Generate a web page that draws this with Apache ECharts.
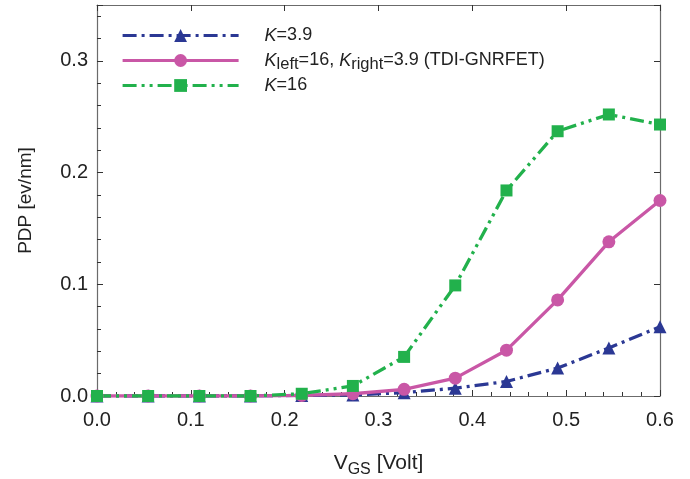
<!DOCTYPE html>
<html>
<head>
<meta charset="utf-8">
<script src="https://cdn.jsdelivr.net/npm/echarts@6/dist/echarts.min.js"></script>
<style>
  html, body {margin: 0; padding: 0; background: #fff;}
  #chart {width: 690px; height: 479px;}
</style>
</head>
<body>
<div id="chart"></div>
<script>
// V_GS sweep, 12 points 0 .. 0.6 V
const vgs = [0, 0.0545, 0.1091, 0.1636, 0.2182, 0.2727, 0.3273, 0.3818, 0.4364, 0.4909, 0.5455, 0.6];
const pdpK39 = [0, 0, 0, 0, 0.0005, 0.001, 0.003, 0.007, 0.013, 0.025, 0.043, 0.062];
const pdpTDI = [0, 0, 0, 0, 0.0005, 0.002, 0.006, 0.016, 0.041, 0.086, 0.138, 0.175];
const pdpK16 = [0, 0, 0, 0, 0.002, 0.009, 0.035, 0.099, 0.184, 0.237, 0.252, 0.243];
const xTicks = [0, 0.1, 0.2, 0.3, 0.4, 0.5, 0.6];
const yTicks = [0, 0.1, 0.2, 0.3];

const pair = (xs, ys) => xs.map((x, i) => [x, ys[i]]);
const font = '"Liberation Sans", Arial, sans-serif';
const frame = '#6b6b6b';

const chart = echarts.init(document.getElementById('chart'));

// frame axes; only bottom/left carry minor ticks
const boxAxis = (pos, extra) => Object.assign({
  type: 'value',
  position: pos,
  axisLine: {show: true, onZero: false, lineStyle: {color: frame, width: 1.2}},
  axisTick: {show: true, inside: true, length: 6, lineStyle: {color: '#333'}},
  minorTick: {show: pos === 'bottom' || pos === 'left', splitNumber: 5, length: 4, lineStyle: {color: '#333'}},
  splitLine: {show: false},
  axisLabel: {show: false}
}, extra);

const sub = {fontSize: 16.5, fontFamily: font, color: '#222', lineHeight: 25, verticalAlign: 'bottom'};
const norm = {fontSize: 18, fontFamily: font, color: '#222', lineHeight: 25, verticalAlign: 'middle'};
const ital = Object.assign({}, norm, {fontStyle: 'italic'});

chart.setOption({
  animation: false,
  grid: {left: 97, right: 30, top: 5, bottom: 83, outerBoundsMode: 'none'},
  legend: {
    left: 116,
    top: 18,
    orient: 'vertical',
    itemWidth: 116,
    itemHeight: 16,
    itemGap: 0,
    lineStyle: {width: 3.2},
    textStyle: {
      padding: [0, 0, 0, 21],
      lineHeight: 25,
      fontSize: 18, fontFamily: font, color: '#222',
      rich: {k: ital, n: norm, s: sub}
    },
    formatter: (name) => {
      if (name === 'a') return '{k|K}{n|=3.9}';
      if (name === 'b') return '{k|K}{s|left}{n|=16, }{k|K}{s|right}{n|=3.9 (TDI-GNRFET)}';
      return '{k|K}{n|=16}';
    }
  },
  xAxis: [
    boxAxis('bottom', {
      min: 0, max: 0.6, interval: 0.1,
      axisLabel: {
        show: true, margin: 14, fontSize: 20, fontFamily: font, color: '#222',
        formatter: (v) => v.toFixed(1),
        customValues: xTicks
      },
      name: '{v|V}{s|GS}{v| [Volt]}',
      nameLocation: 'middle',
      nameGap: 52,
      nameTextStyle: {
        rich: {
          v: {fontSize: 21, fontFamily: font, color: '#222', lineHeight: 30, verticalAlign: 'middle'},
          s: {fontSize: 16, fontFamily: font, color: '#222', lineHeight: 30, verticalAlign: 'bottom'}
        }
      }
    }),
    boxAxis('top', {min: 0, max: 0.6, interval: 0.1})
  ],
  yAxis: [
    boxAxis('left', {
      min: 0, max: 0.35, interval: 0.1,
      axisLabel: {
        show: true, margin: 9, fontSize: 20, fontFamily: font, color: '#222',
        formatter: (v) => v.toFixed(1),
        customValues: yTicks
      },
      name: 'PDP [ev/nm]',
      nameLocation: 'middle',
      nameGap: 62,
      nameTextStyle: {fontSize: 19, fontFamily: font, color: '#222'}
    }),
    boxAxis('right', {min: 0, max: 0.35, interval: 0.1})
  ],
  series: [
    {
      name: 'a', type: 'line', data: pair(vgs, pdpK39),
      symbol: 'triangle', symbolSize: 13,
      itemStyle: {color: '#2b3894'},
      lineStyle: {width: 3.3, type: [14, 5, 3, 5]}
    },
    {
      name: 'b', type: 'line', data: pair(vgs, pdpTDI),
      symbol: 'circle', symbolSize: 13,
      itemStyle: {color: '#c957a6'},
      lineStyle: {width: 3.3}
    },
    {
      name: 'c', type: 'line', data: pair(vgs, pdpK16),
      symbol: 'rect', symbolSize: 12,
      itemStyle: {color: '#22b14c'},
      lineStyle: {width: 3.3, type: [14, 5, 3, 5, 3, 5]}
    }
  ]
});
</script>
</body>
</html>
